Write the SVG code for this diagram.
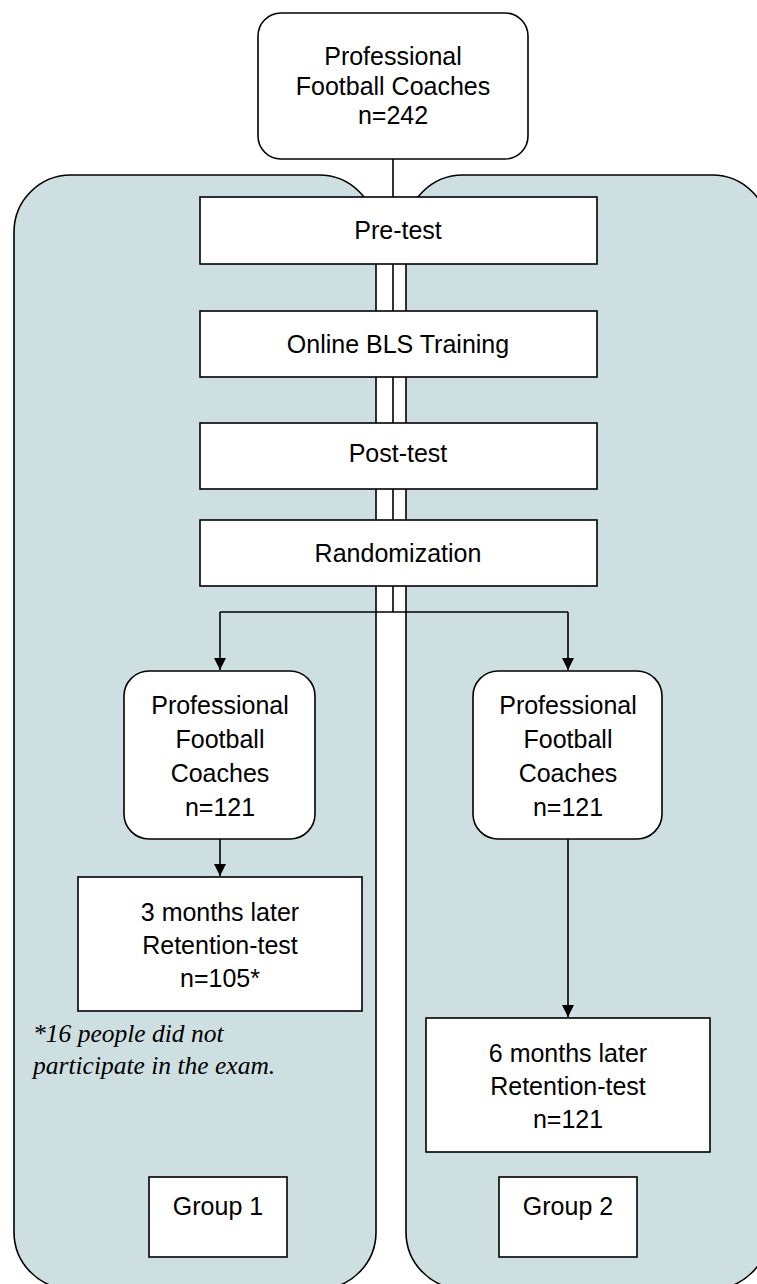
<svg xmlns="http://www.w3.org/2000/svg" width="757" height="1284" viewBox="0 0 757 1284">
  <defs>
    <style>
      .panel { fill: #cedfe2; stroke: #000; stroke-width: 1.6; }
      .box { fill: #fff; stroke: #000; stroke-width: 1.6; }
      .t { font-family: "Liberation Sans", Arial, sans-serif; font-size: 25px; fill: #000; text-anchor: middle; }
      .note { font-family: "Liberation Serif", "Times New Roman", serif; font-style: italic; font-size: 25.5px; fill: #000; }
      .conn { stroke: #000; stroke-width: 1.6; fill: none; }
    </style>
    <marker id="arrow" viewBox="0 0 12 12" refX="12" refY="6" markerWidth="12" markerHeight="12" markerUnits="userSpaceOnUse" orient="auto">
      <path d="M0,0 L12,6 L0,12 z" fill="#000"/>
    </marker>
  </defs>

  <g id="panel-group1"><rect class="panel" x="14" y="175" width="362" height="1114" rx="57" ry="57"/></g>
  <g id="panel-group2"><rect class="panel" x="406" y="175" width="363" height="1114" rx="57" ry="57"/></g>

  <g id="connectors">
    <line class="conn" x1="393" y1="159" x2="393" y2="197"/>
    <line class="conn" x1="393" y1="264" x2="393" y2="311"/>
    <line class="conn" x1="393" y1="377" x2="393" y2="423"/>
    <line class="conn" x1="393" y1="489" x2="393" y2="520"/>
    <polyline class="conn" points="393,586 393,612"/>
    <polyline class="conn" points="220,612 568,612"/>
    <line class="conn" x1="220" y1="612" x2="220" y2="670" marker-end="url(#arrow)"/>
    <line class="conn" x1="568" y1="612" x2="568" y2="670" marker-end="url(#arrow)"/>
    <line class="conn" x1="220" y1="839" x2="220" y2="876" marker-end="url(#arrow)"/>
    <line class="conn" x1="568" y1="839" x2="568" y2="1017" marker-end="url(#arrow)"/>
  </g>

  <g id="node-top">
    <rect class="box" x="258" y="13" width="270" height="146" rx="23" ry="23"/>
    <text class="t" x="393" y="65">Professional</text>
    <text class="t" x="393" y="95">Football Coaches</text>
    <text class="t" x="393" y="124">n=242</text>
  </g>

  <g id="node-pretest">
    <rect class="box" x="200" y="197" width="397" height="67"/>
    <text class="t" x="398" y="239">Pre-test</text>
  </g>
  <g id="node-online">
    <rect class="box" x="200" y="311" width="397" height="66"/>
    <text class="t" x="398" y="353">Online BLS Training</text>
  </g>
  <g id="node-posttest">
    <rect class="box" x="200" y="423" width="397" height="66"/>
    <text class="t" x="398" y="462">Post-test</text>
  </g>
  <g id="node-random">
    <rect class="box" x="200" y="520" width="397" height="66"/>
    <text class="t" x="398" y="562">Randomization</text>
  </g>

  <g id="node-left-coaches">
    <rect class="box" x="124" y="671" width="191" height="168" rx="25" ry="25"/>
    <text class="t" x="220" y="714">Professional</text>
    <text class="t" x="220" y="748">Football</text>
    <text class="t" x="220" y="782">Coaches</text>
    <text class="t" x="220" y="816">n=121</text>
  </g>
  <g id="node-right-coaches">
    <rect class="box" x="473" y="671" width="189" height="168" rx="25" ry="25"/>
    <text class="t" x="568" y="714">Professional</text>
    <text class="t" x="568" y="748">Football</text>
    <text class="t" x="568" y="782">Coaches</text>
    <text class="t" x="568" y="816">n=121</text>
  </g>

  <g id="node-3months">
    <rect class="box" x="78" y="877" width="284" height="134"/>
    <text class="t" x="220" y="921">3 months later</text>
    <text class="t" x="220" y="954">Retention-test</text>
    <text class="t" x="220" y="987">n=105*</text>
  </g>
  <g id="node-6months">
    <rect class="box" x="426" y="1018" width="284" height="134"/>
    <text class="t" x="568" y="1062">6 months later</text>
    <text class="t" x="568" y="1095">Retention-test</text>
    <text class="t" x="568" y="1128">n=121</text>
  </g>

  <g id="note">
    <text class="note" x="33" y="1042">*16 people did not</text>
    <text class="note" x="33" y="1074">participate in the exam.</text>
  </g>

  <g id="node-group1">
    <rect class="box" x="149" y="1177" width="138" height="80"/>
    <text class="t" x="218" y="1215">Group 1</text>
  </g>
  <g id="node-group2">
    <rect class="box" x="499" y="1177" width="138" height="80"/>
    <text class="t" x="568" y="1215">Group 2</text>
  </g>
</svg>
